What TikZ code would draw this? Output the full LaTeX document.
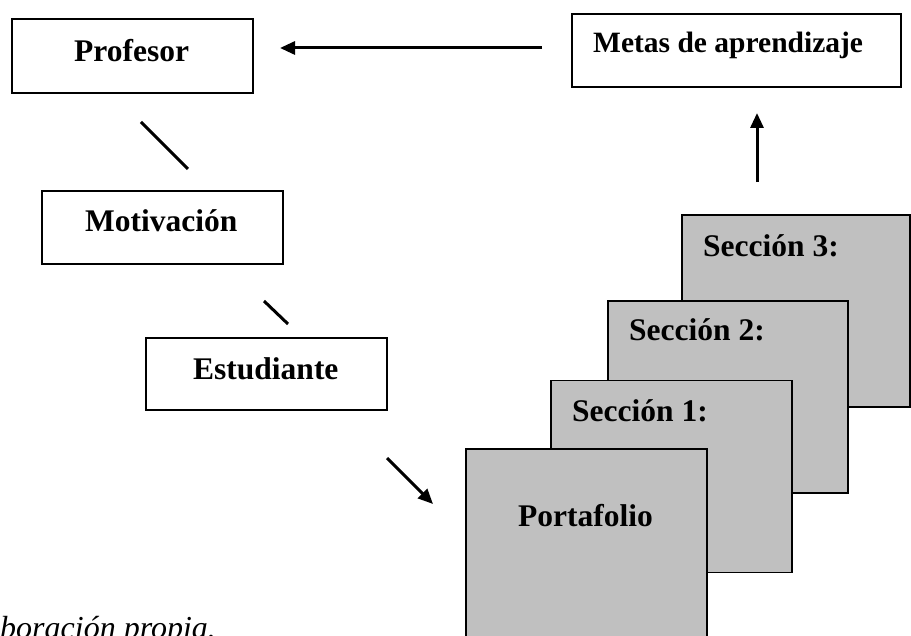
\documentclass[tikz,border=0pt]{standalone}
\usepackage{fontspec}
\setmainfont{Liberation Serif}
\usetikzlibrary{arrows.meta}
\definecolor{secgray}{HTML}{C0C0C0}
\begin{document}
\begin{tikzpicture}[x=1pt,y=-1pt,
  box/.style={draw, line width=2pt, inner sep=0pt, minimum width=#1},
  secbox/.style={draw, line width=1.6pt, fill=secgray, inner sep=0pt, minimum width=#1, minimum height=192pt},
  lbl/.style={anchor=base west, inner sep=0pt, font=\fontsize{31.5}{36}\selectfont\bfseries},
  arr/.style={line width=3pt, -{Triangle[length=15pt,width=13pt]}},
  ln/.style={line width=3pt}]
\useasboundingbox (0,0) rectangle (911,636);
\clip (0,0) rectangle (911,636);
% left boxes
\node[box=241pt, minimum height=74pt] (prof) at (132.5,56) {};
\node[box=329pt, minimum height=73pt] (metas) at (736.5,50.5) {};
\node[box=241pt, minimum height=73pt] (motiv) at (162.5,227.5) {};
\node[box=241pt, minimum height=72pt] (estud) at (266.5,374) {};
\node[lbl] (tprof) at (74,62) {Profesor};
\node[lbl, font=\fontsize{29.5}{34}\selectfont\bfseries] (tmetas) at (593,53) {Metas de aprendizaje};
\node[lbl] (tmotiv) at (85,232) {Motivación};
\node[lbl] (testud) at (193,380) {Estudiante};
% stacked sections
\node[secbox=228pt] (s3) at (796,311) {};
\node[secbox=240pt] (s2) at (728,397) {};
\node[secbox=241pt] (s1) at (671.5,476.5) {};
\node[secbox=241pt] (port) at (586.5,545) {};
\node[lbl] (ts3) at (703,257) {Sección 3:};
\node[lbl] (ts2) at (629,341) {Sección 2:};
\node[lbl] (ts1) at (572,422) {Sección 1:};
\node[lbl] (tport) at (518,526) {Portafolio};
% connectors
\draw[arr, shorten <=29pt, shorten >=26pt] ([yshift=2.5pt]metas.west) -- ([yshift=2.5pt]metas.west -| prof.east);
\coordinate (upx) at (757,0);
\draw[arr, shorten <=32pt, shorten >=25pt] (s3.north -| upx) -- (metas.south -| upx);
\coordinate (l1a) at (141,122);
\coordinate (l1b) at (188,169);
\draw[ln] (l1a) -- (l1b);
\coordinate (l2a) at (264,301);
\coordinate (l2b) at (288,324);
\draw[ln] (l2a) -- (l2b);
\coordinate (a3a) at (387,458);
\coordinate (a3b) at (433,504);
\draw[arr] (a3a) -- (a3b);
% caption
\node[anchor=base west, inner sep=0pt, font=\fontsize{32}{36}\selectfont\itshape] (cap) at (0,638) {boración propia.};
\end{tikzpicture}
\end{document}
